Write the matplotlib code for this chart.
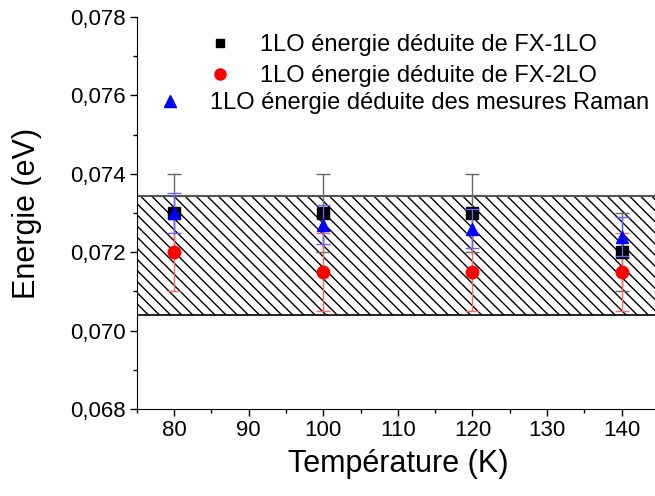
import numpy as np
import matplotlib.pyplot as plt
from matplotlib.ticker import MultipleLocator, FuncFormatter
from matplotlib.lines import Line2D

plt.rcParams['font.family'] = ['Liberation Sans', 'DejaVu Sans']

temp = [80, 100, 120, 140]

e_fx1 = [0.0730, 0.0730, 0.0730, 0.0720]
err_fx1 = [0.001, 0.001, 0.001, 0.001]

e_fx2 = [0.0720, 0.0715, 0.0715, 0.0715]
err_fx2 = [0.001, 0.001, 0.001, 0.001]

e_raman = [0.0730, 0.0727, 0.0726, 0.0724]
err_raman = [0.0005, 0.0005, 0.0005, 0.0005]

band_low = 0.0704
band_high = 0.07343

labels = ['1LO énergie déduite de FX-1LO',
          '1LO énergie déduite de FX-2LO',
          '1LO énergie déduite des mesures Raman']

fig = plt.figure(figsize=(6.55, 4.96), dpi=100)
ax = fig.add_axes([0.209, 0.1754, 0.797, 0.7903])

plt.rcParams['hatch.linewidth'] = 1.0
ax.axhspan(band_low, band_high, facecolor='none', edgecolor='black',
           hatch='\\\\\\', linewidth=1.2, zorder=1)
ax.axhline(band_high, color='#555555', lw=1.5, zorder=1.5)

ax.errorbar(temp, e_fx1, yerr=err_fx1, fmt='s', color='black', ms=8,
            ecolor='#666666', elinewidth=1, capsize=5, capthick=1, zorder=3)
ax.errorbar(temp, e_fx2, yerr=err_fx2, fmt='o', color='red', ms=9,
            ecolor='#ff6666', elinewidth=1, capsize=5, capthick=1, zorder=3)
ax.errorbar(temp, e_raman, yerr=err_raman, fmt='^', color='blue', ms=8,
            ecolor='#6666ff', elinewidth=1, capsize=5, capthick=1, zorder=4)

ax.set_xlim(75, 145)
ax.set_ylim(0.068, 0.078)
ax.xaxis.set_major_locator(MultipleLocator(10))
ax.xaxis.set_minor_locator(MultipleLocator(5))
ax.yaxis.set_major_locator(MultipleLocator(0.002))
ax.yaxis.set_minor_locator(MultipleLocator(0.001))
ax.yaxis.set_major_formatter(FuncFormatter(lambda v, p: f"{v:.3f}".replace('.', ',')))

ax.tick_params(which='major', direction='out', length=5, width=1, labelsize=16, pad=3)
ax.tick_params(which='minor', direction='out', length=3, width=1)
ax.spines['top'].set_visible(False)
ax.spines['right'].set_visible(False)

ax.set_xlabel('Température (K)', fontsize=22, labelpad=6)
ax.set_ylabel('Energie (eV)', fontsize=22, labelpad=20)

h1 = Line2D([], [], ls='none', marker='s', color='black', ms=6)
h2 = Line2D([], [], ls='none', marker='o', color='red', ms=8)
h3 = Line2D([], [], ls='none', marker='^', color='blue', ms=8)

leg1 = fig.legend([h1, h2], labels[:2], loc='upper left',
                  bbox_to_anchor=(208 / 655, 1 - 34 / 496), frameon=False,
                  fontsize=17, handlelength=1.0, handletextpad=1.2,
                  labelspacing=0.4, borderpad=0, borderaxespad=0)
leg2 = fig.legend([h3], labels[2:], loc='upper left',
                  bbox_to_anchor=(158 / 655, 1 - 92 / 496), frameon=False,
                  fontsize=17, handlelength=1.0, handletextpad=1.2,
                  borderpad=0, borderaxespad=0)

fig.savefig('out.png', dpi=100)
